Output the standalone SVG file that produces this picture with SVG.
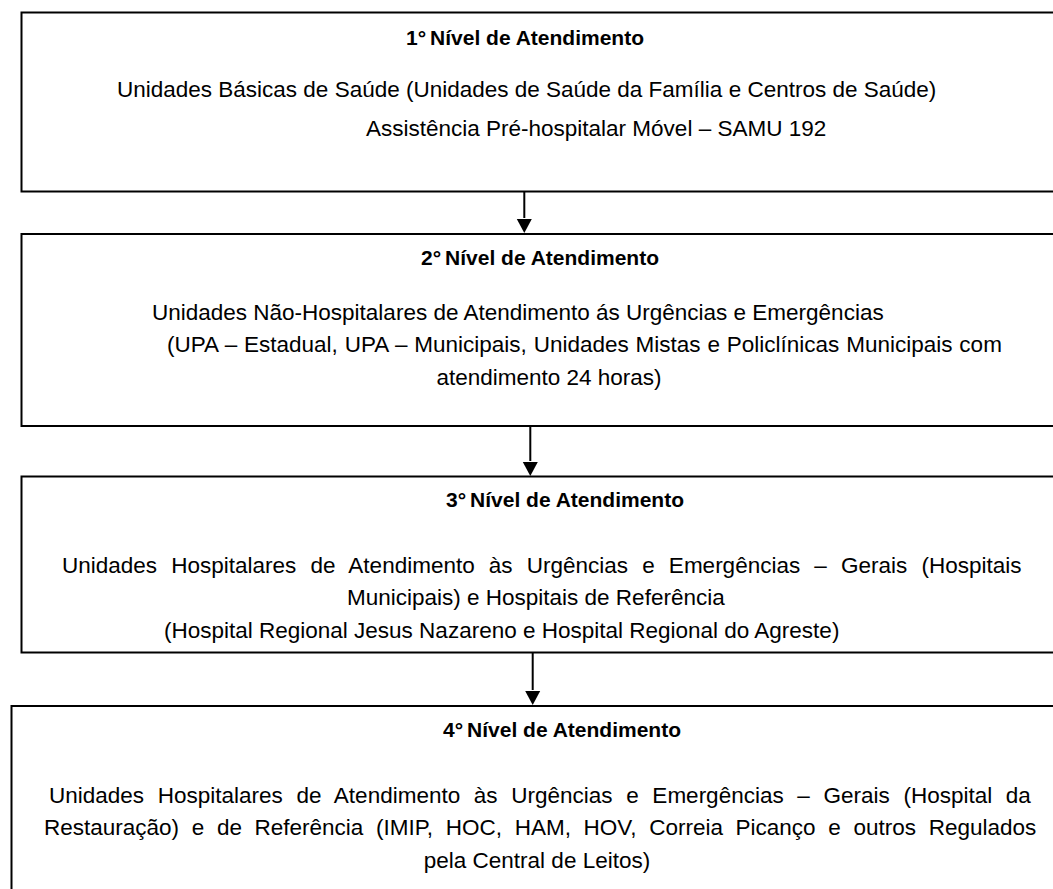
<svg xmlns="http://www.w3.org/2000/svg" width="1053" height="889" viewBox="0 0 1053 889">
<style>
.box{fill:#fff;stroke:#000;stroke-width:2}
.t{font-family:"Liberation Sans",Arial,sans-serif;font-size:21px;font-weight:bold;fill:#000;text-anchor:middle}
.b{font-family:"Liberation Sans",Arial,sans-serif;font-size:22.5px;fill:#000}
.c{text-anchor:middle}
.ln{stroke:#000;stroke-width:2;fill:none}
</style>
<rect width="1053" height="889" fill="#fff"/>
<g id="nivel1">
<rect class="box" x="21.5" y="12.5" width="1045" height="179"/>
<text class="t" x="525" y="45">1°<tspan dx="4">Nível de Atendimento</tspan></text>
<text class="b" x="117" y="97">Unidades Básicas de Saúde (Unidades de Saúde da Família e Centros de Saúde)</text>
<text class="b" x="366" y="136">Assistência Pré-hospitalar Móvel – SAMU 192</text>
</g>
<g id="nivel2">
<rect class="box" x="21.5" y="234" width="1045" height="192"/>
<text class="t" x="540" y="265">2°<tspan dx="4">Nível de Atendimento</tspan></text>
<text class="b" x="152" y="320">Unidades Não-Hospitalares de Atendimento ás Urgências e Emergências</text>
<text class="b" x="167" y="352" word-spacing="0.6">(UPA – Estadual, UPA – Municipais, Unidades Mistas e Policlínicas Municipais com</text>
<text class="b c" x="549" y="385">atendimento 24 horas)</text>
</g>
<g id="nivel3">
<rect class="box" x="21.5" y="476.5" width="1045" height="176"/>
<text class="t" x="565" y="507">3°<tspan dx="4">Nível de Atendimento</tspan></text>
<text class="b" x="62" y="573" word-spacing="7.9">Unidades Hospitalares de Atendimento às Urgências e Emergências – Gerais (Hospitais</text>
<text class="b" x="347" y="605">Municipais) e Hospitais de Referência</text>
<text class="b" x="164" y="638">(Hospital Regional Jesus Nazareno e Hospital Regional do Agreste)</text>
</g>
<g id="nivel4">
<rect class="box" x="11.5" y="706" width="1055" height="200"/>
<text class="t" x="562" y="737">4°<tspan dx="4">Nível de Atendimento</tspan></text>
<text class="b" x="49" y="803" word-spacing="7.4">Unidades Hospitalares de Atendimento às Urgências e Emergências – Gerais (Hospital da</text>
<text class="b" x="44" y="835" word-spacing="6.4">Restauração) e de Referência (IMIP, HOC, HAM, HOV, Correia Picanço e outros Regulados</text>
<text class="b c" x="537" y="868">pela Central de Leitos)</text>
</g>
<g id="connectors">
<line class="ln" x1="524.3" y1="192" x2="524.3" y2="218"/>
<path d="M516.8,219 L531.8,219 L524.3,233 z" fill="#000"/>
<line class="ln" x1="530.3" y1="426" x2="530.3" y2="461"/>
<path d="M522.8,462 L537.8,462 L530.3,476 z" fill="#000"/>
<line class="ln" x1="532.7" y1="653" x2="532.7" y2="690"/>
<path d="M525.2,691 L540.2,691 L532.7,705 z" fill="#000"/>
</g>
</svg>
